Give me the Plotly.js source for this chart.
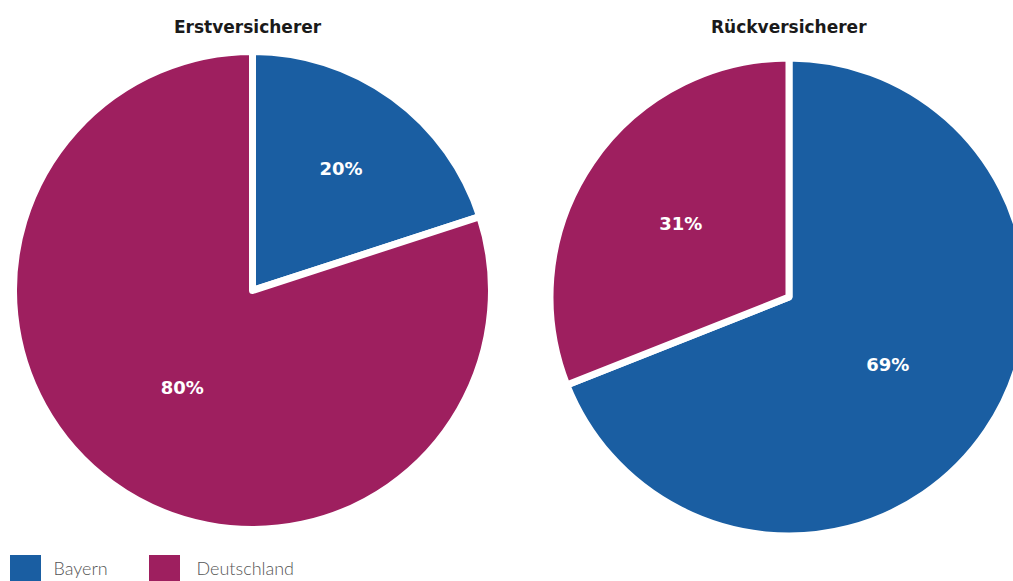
<!DOCTYPE html>
<html>
<head>
<meta charset="utf-8">
<script src="https://cdn.plot.ly/plotly-3.0.1.min.js"></script>
<style>
html,body{margin:0;padding:0;overflow:hidden;background:#fff;width:1013px;height:581px;}
#chart{width:1040px;height:581px;}
</style>
</head>
<body>
<div id="chart"></div>
<script>
const categories = ["Bayern", "Deutschland"];
const erstversichererValues = [20, 80];
const rueckversichererValues = [69, 31];
const panelTitles = ["Erstversicherer", "Rückversicherer"];
const sliceColors = ["#1a5ea2", "#9e1f5f"];

const W = 1040, H = 581;
function dom(cx, cy, r) {
  return { x: [(cx - r) / W, (cx + r) / W], y: [(H - cy - r) / H, (H - cy + r) / H] };
}

const common = {
  type: "pie",
  labels: categories,
  sort: false,
  direction: "clockwise",
  rotation: 0,
  textinfo: "percent",
  texttemplate: "%{percent:.0%}",
  textposition: "inside",
  insidetextorientation: "horizontal",
  textfont: { family: "'DejaVu Sans', sans-serif", size: 18, color: "#ffffff", weight: "bold" },
  marker: { colors: sliceColors, line: { color: "#ffffff", width: 7 } },
  hoverinfo: "label+percent"
};

const traces = [
  Object.assign({}, common, { values: erstversichererValues, name: panelTitles[0], domain: dom(252.5, 290.5, 239), showlegend: true }),
  Object.assign({}, common, { values: rueckversichererValues, name: panelTitles[1], domain: dom(789, 297, 239), showlegend: false })
];

const titleFont = { family: "'DejaVu Sans', sans-serif", size: 17, color: "#1a1a1a", weight: "bold" };
const layout = {
  width: W, height: H,
  margin: { l: 0, r: 0, t: 0, b: 0 },
  paper_bgcolor: "#ffffff",
  showlegend: true,
  legend: {
    orientation: "h", x: 0, y: 0, xanchor: "left", yanchor: "bottom",
    font: { family: "Lato, 'DejaVu Sans', sans-serif", size: 18, color: "#555555", weight: 300 },
    itemwidth: 37, entrywidth: 100, bgcolor: "rgba(0,0,0,0)"
  },
  annotations: [
    { text: panelTitles[0], x: 248 / W, y: 1 - 27 / H, xref: "paper", yref: "paper", showarrow: false, font: titleFont, xanchor: "center", yanchor: "middle" },
    { text: panelTitles[1], x: 789 / W, y: 1 - 27 / H, xref: "paper", yref: "paper", showarrow: false, font: titleFont, xanchor: "center", yanchor: "middle" }
  ]
};

function styleLegend() {
  document.querySelectorAll(".legend .scrollbox").forEach(function (s) { s.removeAttribute("clip-path"); });
  const sqLeft = [10, 149], textLeft = [53.5, 196.5], centerY = 568;
  document.querySelectorAll(".legend .traces").forEach(function (g, i) {
    const p = g.querySelector("path.legendpie");
    if (!p) return;
    p.style.strokeWidth = "0";
    p.setAttribute("transform", "translate(20,0) scale(" + (31 / 12) + "," + (26 / 12) + ")");
    const r = p.getBoundingClientRect();
    const dx = sqLeft[i] - r.left, dy = centerY - (r.top + r.height / 2);
    const m = /translate\(\s*([-\d.e]+)[\s,]*([-\d.e]+)?\s*\)/.exec(g.getAttribute("transform") || "");
    const tx = m ? +m[1] : 0, ty = m && m[2] ? +m[2] : 0;
    g.setAttribute("transform", "translate(" + (tx + dx) + "," + (ty + dy) + ")");
    const t = g.querySelector("text.legendtext");
    if (t) {
      const tr = t.getBoundingClientRect();
      t.setAttribute("transform", "translate(" + (textLeft[i] - tr.left) + ",0)");
    }
  });
}

Plotly.newPlot("chart", traces, layout, { staticPlot: true, displayModeBar: false }).then(styleLegend);
</script>
</body>
</html>
